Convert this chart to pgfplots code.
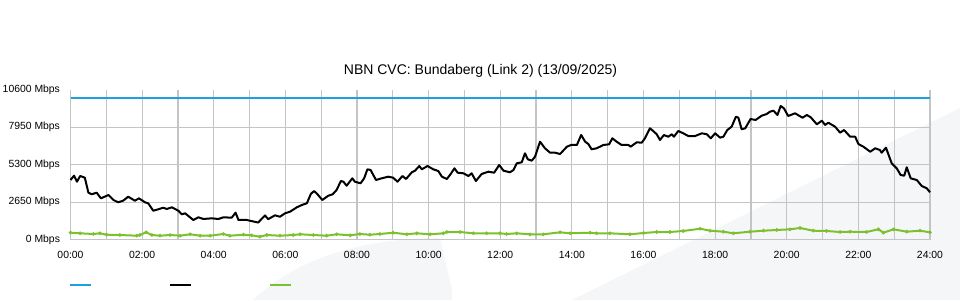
\documentclass[border=0pt]{standalone}
\usepackage{fontspec}
\setmainfont{Liberation Sans}
\usepackage{pgfplots}
\pgfplotsset{compat=1.18}
\definecolor{cvcblue}{RGB}{30,160,222}
\definecolor{cvcgreen}{RGB}{124,193,45}
\definecolor{wm}{RGB}{245,246,248}
\definecolor{gridc}{RGB}{196,196,196}
\begin{document}
\begin{tikzpicture}[x=1pt,y=1pt]
\useasboundingbox (0,0) rectangle (960,300);
% faint watermark shapes in the background
\fill[wm] (253,0) .. controls (300,45) and (370,62) .. (440,62) -- (452,10) -- (452,0) -- cycle;
\fill[wm] (572,0) -- (960,192) -- (960,0) -- cycle;
\begin{axis}[
  at={(70.5pt,60.2pt)}, anchor=south west,
  scale only axis, width=859.5pt, height=150pt,
  xmin=0, xmax=24, ymin=0, ymax=10600,
  scaled y ticks=false, scaled x ticks=false,
  axis line style={draw=none},
  tick style={draw=none},
  major tick length=0pt, minor tick length=0pt,
  xtick={0,2,...,24},
  xticklabels={00:00,02:00,04:00,06:00,08:00,10:00,12:00,14:00,16:00,18:00,20:00,22:00,24:00},
  minor xtick={1,3,...,23},
  ytick={0,2650,5300,7950},
  yticklabels={0 Mbps,2650 Mbps,5300 Mbps,7950 Mbps},
  extra y ticks={10600},
  extra y tick labels={10600 Mbps},
  extra y tick style={grid=none},
  xmajorgrids, xminorgrids, ymajorgrids,
  major grid style={color=gridc, line width=1.2pt},
  minor grid style={color=gridc, line width=1.2pt},
  ticklabel style={font=\fontsize{10.4}{12}\selectfont, text=black},
  yticklabel style={anchor=east, xshift=-7pt},
  xticklabel style={anchor=north, yshift=-8pt},
  clip=false,
]
\addplot[cvcblue, line width=2pt] coordinates {(0,10000) (24,10000)};
\addplot[cvcgreen, line width=2pt, mark=*, mark size=0.6pt] coordinates {
(0.00,502) (0.27,459) (0.64,410) (0.82,459) (1.01,360) (1.38,339) (1.85,290) (1.94,339)
(2.11,530) (2.27,339) (2.50,290) (2.78,339) (3.06,290) (3.34,389) (3.62,290) (3.90,290)
(4.27,410) (4.45,290) (4.83,360) (5.06,318) (5.29,219) (5.48,339) (5.85,290) (6.22,339)
(6.41,389) (6.78,339) (7.15,290) (7.43,389) (7.81,318) (8.08,410) (8.36,360) (8.64,410)
(9.01,502) (9.39,389) (9.67,459) (10.04,389) (10.41,459) (10.51,551) (10.88,551) (11.25,459)
(11.62,459) (11.99,459) (12.18,410) (12.46,459) (12.83,389) (13.20,389) (13.67,530) (13.95,459)
(14.51,502) (14.69,459) (15.06,459) (15.62,389) (16.00,480) (16.37,551) (16.74,551) (17.11,622)
(17.58,784) (17.86,643) (18.23,572) (18.51,459) (18.97,572) (19.35,643) (19.72,693) (20.09,742)
(20.37,834) (20.74,643) (21.11,622) (21.49,551) (21.77,572) (22.23,551) (22.56,742) (22.70,502)
(22.98,742) (23.35,572) (23.72,643) (24.00,530)
};
\addplot[black, line width=2pt, line join=round] coordinates {
(0.00,4226) (0.10,4530) (0.18,4106) (0.27,4510) (0.40,4390) (0.50,3330) (0.59,3215) (0.73,3330)
(0.85,2930) (1.06,3166) (1.20,2813) (1.33,2650) (1.47,2763) (1.61,3046) (1.80,2763) (1.91,2930)
(2.08,2650) (2.17,2580) (2.31,2056) (2.45,2155) (2.59,2268) (2.69,2177) (2.83,2297) (3.01,2056)
(3.11,1802) (3.20,1873) (3.43,1399) (3.57,1590) (3.71,1470) (3.94,1519) (4.13,1470) (4.27,1590)
(4.50,1562) (4.61,1915) (4.69,1400) (4.92,1400) (5.24,1220) (5.43,1720) (5.52,1460) (5.71,1730)
(5.85,1632) (5.99,1873) (6.13,1986) (6.32,2297) (6.46,2459) (6.60,2580) (6.71,3237) (6.80,3449)
(6.89,3237) (7.03,2813) (7.20,3117) (7.32,3215) (7.43,3519) (7.55,4155) (7.62,4106) (7.71,3823)
(7.87,4346) (7.94,4106) (8.10,3993) (8.20,4346) (8.29,4982) (8.38,4933) (8.53,4226) (8.69,4346)
(8.87,4459) (9.01,4389) (9.13,4106) (9.27,4509) (9.37,4297) (9.53,4770) (9.62,4883) (9.74,5215)
(9.81,4982) (9.97,5215) (10.13,4982) (10.27,4862) (10.37,4459) (10.51,4297) (10.63,4700) (10.72,5053)
(10.81,4742) (10.97,4700) (11.11,4509) (11.20,4700) (11.32,4155) (11.48,4650) (11.67,4813) (11.83,4742)
(11.97,5286) (12.09,4883) (12.27,4770) (12.37,4933) (12.46,5406) (12.60,5477) (12.69,6113) (12.77,5689)
(12.88,5590) (12.97,5873) (13.11,6933) (13.25,6466) (13.39,6155) (13.53,6155) (13.67,6063) (13.86,6579)
(13.98,6700) (14.14,6700) (14.26,7406) (14.37,6933) (14.46,6770) (14.55,6395) (14.69,6466) (14.88,6700)
(15.04,6749) (15.13,7173) (15.25,6933) (15.39,6700) (15.58,6700) (15.64,6579) (15.81,6890) (15.95,6862)
(16.04,7173) (16.18,7880) (16.27,7689) (16.37,7456) (16.46,7053) (16.57,7406) (16.69,7286) (16.79,7456)
(16.85,7286) (16.97,7689) (17.11,7526) (17.25,7335) (17.44,7335) (17.63,7526) (17.77,7456) (17.88,7173)
(18.00,7526) (18.14,7215) (18.23,7286) (18.34,7759) (18.46,7992) (18.58,8699) (18.65,8628) (18.74,7809)
(18.84,7880) (18.99,8537) (19.13,8466) (19.30,8770) (19.44,8890) (19.53,9053) (19.63,9124) (19.74,8819)
(19.83,9456) (19.92,9293) (20.04,8749) (20.23,8940) (20.44,8628) (20.56,8819) (20.67,8657) (20.84,8162)
(20.98,8417) (21.07,8113) (21.16,8275) (21.35,7992) (21.49,7569) (21.60,7759) (21.77,7286) (21.91,7286)
(22.00,6770) (22.14,6579) (22.33,6226) (22.47,6466) (22.60,6346) (22.65,6155) (22.77,6508) (22.93,5406)
(23.07,5053) (23.18,4580) (23.28,4530) (23.35,5124) (23.46,4346) (23.56,4275) (23.63,4226) (23.77,3802)
(23.91,3640) (24.00,3357)
};
\end{axis}
\node[font=\fontsize{14}{16}\selectfont] at (480.5,229.5) {NBN CVC: Bundaberg (Link 2) (13/09/2025)};
% legend swatches (no legend text in the original)
\draw[cvcblue, line width=2pt] (70,15) -- (91,15);
\draw[black, line width=2pt] (170,15) -- (191,15);
\draw[cvcgreen, line width=2pt] (270,15) -- (291,15);
\end{tikzpicture}
\end{document}
